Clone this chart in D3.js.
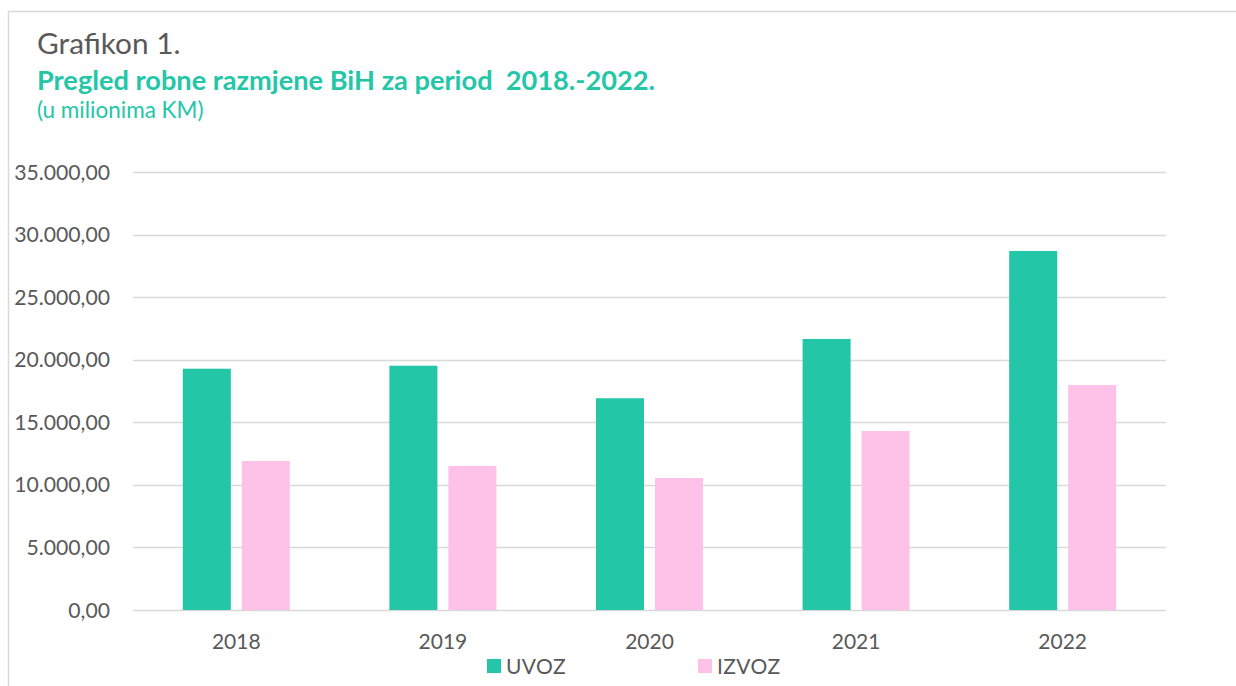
<!DOCTYPE html>
<html>
<head>
<meta charset="utf-8">
<script src="https://cdn.jsdelivr.net/npm/d3@7"></script>
<style>
  body { margin: 0; background: #fff; }
  text { font-family: Lato, "Open Sans", sans-serif; }
</style>
</head>
<body>
<div id="chart"></div>
<script>
// data (millions KM)
const years = ["2018", "2019", "2020", "2021", "2022"];
const series = ["UVOZ", "IZVOZ"];
const uvoz = [19280, 19520, 16920, 21660, 28690];
const izvoz = [11910, 11510, 10550, 14300, 17980];
const yTicks = [0, 5000, 10000, 15000, 20000, 25000, 30000, 35000];

const colors = {UVOZ: "#23C6A7", IZVOZ: "#FEC2E8"};
const width = 1236, height = 686;
const margin = {top: 172, right: 70, bottom: 76, left: 133};

const svg = d3.select("#chart").append("svg")
  .attr("width", width)
  .attr("height", height);

// frame (top and left edge only, like the cropped original)
svg.append("line")
  .attr("x1", 8.5).attr("y1", 11.5).attr("x2", width).attr("y2", 11.5)
  .attr("stroke", "#D9D9D9").attr("stroke-width", 1.5);
svg.append("line")
  .attr("x1", 8.5).attr("y1", 11.5).attr("x2", 8.5).attr("y2", height)
  .attr("stroke", "#D9D9D9").attr("stroke-width", 1.5);

// titles
svg.append("text")
  .attr("x", 37).attr("y", 54)
  .attr("font-size", 29.8).attr("fill", "#595959")
  .text("Grafikon 1.");
svg.append("text")
  .attr("x", 37).attr("y", 90)
  .attr("font-size", 27.2).attr("font-weight", "bold").attr("fill", "#23C6A7")
  .attr("xml:space", "preserve")
  .text("Pregled robne razmjene BiH za period  2018.-2022.");
svg.append("text")
  .attr("x", 37).attr("y", 118)
  .attr("font-size", 22.5).attr("fill", "#23C6A7")
  .text("(u milionima KM)");

const y = d3.scaleLinear()
  .domain([0, 35000])
  .range([height - margin.bottom, margin.top]);

const x0 = d3.scaleBand()
  .domain(years)
  .range([margin.left, width - margin.right])
  .paddingInner(0.482)
  .paddingOuter(0.241);

const x1 = d3.scaleBand()
  .domain(series)
  .range([0, x0.bandwidth()])
  .paddingInner(0.186);

const fmt = d3.formatLocale({decimal: ",", thousands: ".", grouping: [3], currency: ["", ""]}).format(",.2f");

// gridlines
svg.append("g")
  .selectAll("line")
  .data(yTicks)
  .join("line")
  .attr("x1", margin.left).attr("x2", width - margin.right)
  .attr("y1", d => Math.round(y(d)) + 0.5).attr("y2", d => Math.round(y(d)) + 0.5)
  .attr("stroke", "#D9D9D9").attr("stroke-width", 1.5);

// y labels
svg.append("g")
  .selectAll("text")
  .data(yTicks)
  .join("text")
  .attr("x", 110).attr("y", d => y(d) + 7.5)
  .attr("text-anchor", "end")
  .attr("font-size", 21.2).attr("fill", "#595959")
  .text(d => fmt(d));

// bars
const rows = years.map((yr, i) => ({year: yr, UVOZ: uvoz[i], IZVOZ: izvoz[i]}));

svg.append("g")
  .selectAll("g")
  .data(rows)
  .join("g")
  .attr("transform", d => `translate(${x0(d.year)},0)`)
  .selectAll("rect")
  .data(d => series.map(s => ({key: s, value: d[s]})))
  .join("rect")
  .attr("x", d => x1(d.key))
  .attr("y", d => y(d.value))
  .attr("width", x1.bandwidth())
  .attr("height", d => y(0) - y(d.value))
  .attr("fill", d => colors[d.key]);

// x labels
svg.append("g")
  .selectAll("text")
  .data(years)
  .join("text")
  .attr("x", d => x0(d) + x0.bandwidth() / 2)
  .attr("y", 649)
  .attr("text-anchor", "middle")
  .attr("font-size", 21).attr("fill", "#595959")
  .text(d => d);

// legend
const legendX = [487, 698];
const legend = svg.append("g")
  .selectAll("g")
  .data(series)
  .join("g")
  .attr("transform", (d, i) => `translate(${legendX[i]},659)`);
legend.append("rect")
  .attr("width", 14).attr("height", 14)
  .attr("fill", d => colors[d]);
legend.append("text")
  .attr("x", 19).attr("y", 15)
  .attr("font-size", 21).attr("letter-spacing", 0.4).attr("fill", "#595959")
  .text(d => d);
</script>
</body>
</html>
